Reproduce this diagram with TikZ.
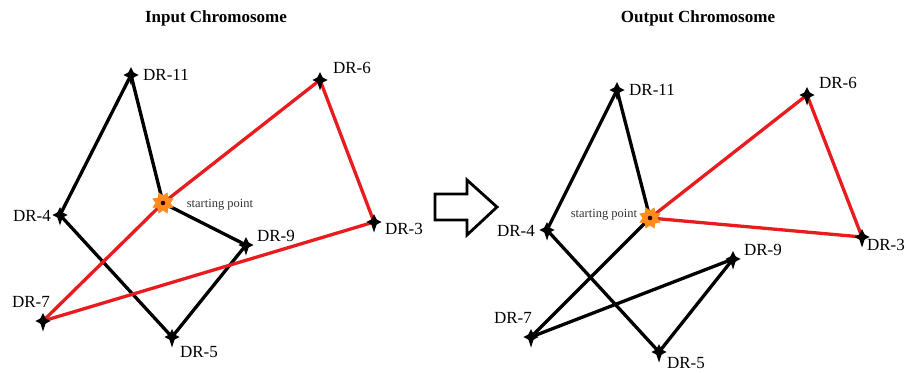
\documentclass[tikz,border=0pt]{standalone}
\usepackage{fontspec}
\setmainfont{Liberation Serif}
\usetikzlibrary{shapes.geometric,backgrounds}
\definecolor{edgered}{RGB}{232,28,30}
\definecolor{startorange}{RGB}{255,140,30}
\begin{document}
\begin{tikzpicture}[x=1pt,y=-1pt,
  marker/.style={circle,fill=none,draw=none,minimum size=0pt,inner sep=0pt},
  markfill/.style={fill=black},
  startmark/.style={star,star points=8,star point ratio=0.65,fill=startorange,draw=none,minimum size=15pt,inner sep=0pt,
    path picture={\fill[black!80!red] (path picture bounding box.center) circle (2.3pt);}},
  lbl/.style={font=\fontsize{17}{17}\selectfont,inner sep=0pt,text height=11.5pt,text depth=0pt},
  slbl/.style={font=\fontsize{12.5}{12.5}\selectfont,inner sep=0pt,text depth=0pt,text height=8pt,text=black!80},
  ttl/.style={font=\fontsize{17}{17}\selectfont\bfseries,inner sep=0pt},
  blk/.style={line width=3.3pt,black},
  rd/.style={line width=3.3pt,edgered},
  bigarrow/.style={line width=2.8pt,black,fill=white,line join=miter}]
\useasboundingbox (0,0) rectangle (917,372);
% titles
\node[ttl] (t1) at (216,18) {Input Chromosome};
\node[ttl] (t2) at (698,18) {Output Chromosome};
% ---------- left panel ----------
\node[marker] (a11) at (131,75) {};
\node[marker] (a6) at (320,80) {};
\node[startmark] (as) at (163,203) {};
\node[marker] (a4) at (60,215) {};
\node[marker] (a9) at (246,245) {};
\node[marker] (a3) at (374,222) {};
\node[marker] (a7) at (43,321) {};
\node[marker] (a5) at (172,337) {};
\node[lbl] (la11) at (166,75) {DR-11};
\node[lbl] (la6) at (352,68) {DR-6};
\node[lbl] (la4) at (32,216) {DR-4};
\node[lbl] (la9) at (276,236) {DR-9};
\node[lbl] (la3) at (404,229) {DR-3};
\node[lbl] (la7) at (31,302) {DR-7};
\node[lbl] (la5) at (199,352) {DR-5};
\node[slbl] (las) at (220,203) {starting point};
% ---------- right panel ----------
\node[marker] (b11) at (617,90) {};
\node[marker] (b6) at (807,95) {};
\node[startmark] (bs) at (650,218) {};
\node[marker] (b4) at (547,230) {};
\node[marker] (b9) at (733,259) {};
\node[marker] (b3) at (862,237) {};
\node[marker] (b7) at (531,337) {};
\node[marker] (b5) at (659,352) {};
\node[lbl] (lb11) at (652,90) {DR-11};
\node[lbl] (lb6) at (838,83) {DR-6};
\node[lbl] (lb4) at (516,231) {DR-4};
\node[lbl] (lb9) at (763,250) {DR-9};
\node[lbl] (lb3) at (886,245) {DR-3};
\node[lbl] (lb7) at (513,318) {DR-7};
\node[lbl] (lb5) at (686,363) {DR-5};
\node[slbl] (lbs) at (604,213) {starting point};
% arrow
\coordinate (ar1) at (435,194);
\coordinate (ar2) at (467,194);
\coordinate (ar3) at (467,180);
\coordinate (ar4) at (497,207);
\coordinate (ar5) at (467,235);
\coordinate (ar6) at (467,220);
\coordinate (ar7) at (435,220);
\draw[bigarrow] (ar1) -- (ar2) -- (ar3) -- (ar4) -- (ar5) -- (ar6) -- (ar7) -- cycle;
% edges on background
\begin{scope}[on background layer]
  \draw[blk] (a11.center) -- (a4.center);
  \draw[blk] (a11.center) -- (as.center);
  \draw[blk] (as.center) -- (a9.center);
  \draw[blk] (a9.center) -- (a5.center);
  \draw[blk] (a5.center) -- (a4.center);
  \draw[rd] (as.center) -- (a6.center);
  \draw[rd] (a6.center) -- (a3.center);
  \draw[rd] (a3.center) -- (a7.center);
  \draw[rd] (a7.center) -- (as.center);
  \draw[blk] (b11.center) -- (b4.center);
  \draw[blk] (b11.center) -- (bs.center);
  \draw[blk] (b4.center) -- (b5.center);
  \draw[blk] (b5.center) -- (b9.center);
  \draw[blk] (b9.center) -- (b7.center);
  \draw[blk] (b7.center) -- (bs.center);
  \draw[rd] (bs.center) -- (b6.center);
  \draw[rd] (b6.center) -- (b3.center);
  \draw[rd] (b3.center) -- (bs.center);
\end{scope}
% cross markers
\foreach \n in {a11,a6,a4,a9,a3,a7,a5,b11,b6,b4,b9,b3,b7,b5}{
  \fill[markfill] (\n.center) +(0,-8) -- +(2.6,-2.6) -- +(7.5,0) -- +(2.6,2.6) -- +(0,10.5) -- +(-2.6,2.6) -- +(-7.5,0) -- +(-2.6,-2.6) -- cycle;
}
\end{tikzpicture}
\end{document}
